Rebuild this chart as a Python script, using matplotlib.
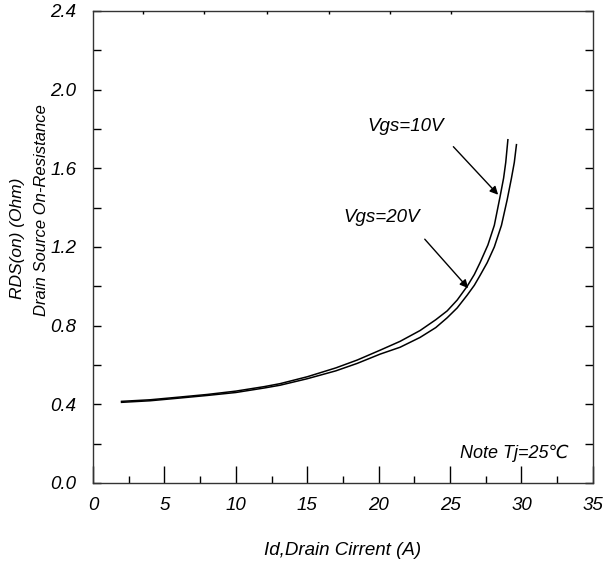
import matplotlib
matplotlib.use("Agg")
import matplotlib.pyplot as plt
from matplotlib.ticker import MultipleLocator

plt.rcParams['font.family'] = ['Liberation Sans', 'DejaVu Sans']
plt.rcParams['font.style'] = 'italic'

id_10v = [2.0, 4.0, 6.1, 8.0, 10.0, 12.0, 13.1, 15.0, 17.0, 18.5, 20.1, 21.5, 22.9, 24.0, 24.8, 25.5,
          26.2, 26.7, 27.1, 27.65, 28.1, 28.5, 28.75, 28.9, 29.05]
rds_10v = [0.415, 0.423, 0.437, 0.45, 0.467, 0.49, 0.505, 0.54, 0.585, 0.625, 0.675, 0.72, 0.775, 0.83, 0.875, 0.93,
           1.0, 1.06, 1.12, 1.21, 1.31, 1.455, 1.55, 1.63, 1.745]

id_20v = [2.0, 4.0, 6.1, 8.0, 10.0, 12.0, 13.1, 15.0, 17.0, 18.5, 20.1, 21.5, 22.9, 24.0, 24.8, 25.5,
          26.2, 26.7, 27.1, 27.6, 28.1, 28.6, 29.0, 29.3, 29.5, 29.65]
rds_20v = [0.41, 0.418, 0.432, 0.445, 0.46, 0.483, 0.497, 0.53, 0.57, 0.608, 0.655, 0.69, 0.74, 0.79, 0.84, 0.89,
           0.955, 1.005, 1.055, 1.12, 1.2, 1.31, 1.44, 1.55, 1.63, 1.72]

x_ticks = [0, 5, 10, 15, 20, 25, 30, 35]
y_ticks = [0.0, 0.4, 0.8, 1.2, 1.6, 2.0, 2.4]
top_dots = [3.5, 7.8, 12.2, 16.5, 20.8, 25.1]

fig = plt.figure(figsize=(6.03, 5.62), dpi=100)
ax = fig.add_axes([0.1542, 0.1406, 0.829, 0.840])

ax.plot(id_10v, rds_10v, color='black', lw=1.1)
ax.plot(id_20v, rds_20v, color='black', lw=1.1)

ax.set_xlim(0, 35)
ax.set_ylim(0, 2.4)
ax.set_xticks(x_ticks)
ax.set_yticks(y_ticks)
ax.set_xticklabels([str(t) for t in x_ticks])
ax.set_yticklabels([f"{t:.1f}" for t in y_ticks])
ax.xaxis.set_minor_locator(MultipleLocator(2.5))
ax.yaxis.set_minor_locator(MultipleLocator(0.2))

ax.tick_params(axis='x', which='major', direction='in', length=12, width=1, labelsize=13.5, pad=10, top=False)
ax.tick_params(axis='x', which='minor', direction='in', length=5, width=1, top=False)
ax.tick_params(axis='y', which='both', direction='in', length=6, width=1, labelsize=13.5, pad=12, right=True)

for s in ax.spines.values():
    s.set_linewidth(1.0)
    s.set_color('#333333')

# tiny dots along the top edge
top = ax.twiny()
top.set_xlim(0, 35)
top.set_xticks(top_dots)
top.set_xticklabels([])
top.tick_params(axis='x', direction='in', length=2, width=1)
top.spines[:].set_visible(False)

ax.set_xlabel("Id,Drain Cirrent (A)", fontsize=13.5, labelpad=20)
fig.text(18 / 603, 1 - 238 / 562, "RDS(on) (Ohm)", rotation=90, fontsize=12.5, ha='center', va='center')
fig.text(42 / 603, 1 - 210 / 562, "Drain Source On-Resistance", rotation=90, fontsize=12, ha='center', va='center')

ax.annotate("", xy=(28.5, 1.455), xytext=(25.1, 1.72),
            arrowprops=dict(arrowstyle='-|>', color='black', lw=1, mutation_scale=12))
ax.annotate("", xy=(26.4, 0.98), xytext=(23.1, 1.25),
            arrowprops=dict(arrowstyle='-|>', color='black', lw=1, mutation_scale=12))
ax.text(19.2, 1.81, "Vgs=10V", fontsize=13.5, va='center')
ax.text(17.5, 1.35, "Vgs=20V", fontsize=13.5, va='center')
ax.text(25.7, 0.15, "Note Tj=25\u2103", fontsize=13, va='center')

fig.savefig("out.png", dpi=100)
